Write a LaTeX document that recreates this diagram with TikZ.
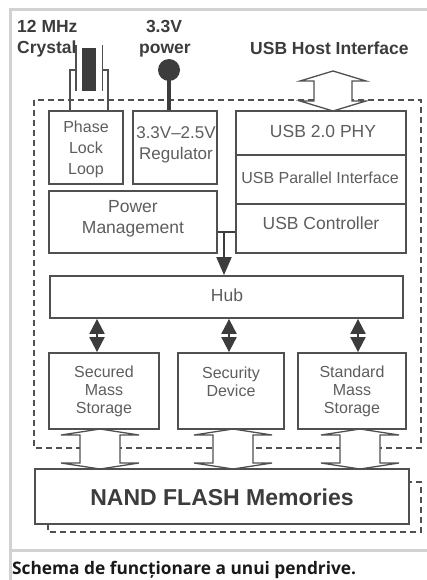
\documentclass[tikz,border=0pt]{standalone}
\usepackage{fontspec}
\setmainfont{Liberation Sans}
\newfontfamily\capfont{Open Sans}
\usetikzlibrary{arrows.meta}
\definecolor{boxc}{HTML}{505050}
\definecolor{txtc}{HTML}{5E5E5E}
\definecolor{titc}{HTML}{3C3C3C}
\definecolor{framec}{HTML}{D2D2D2}
\newcommand\myharrow[6]{%
  \draw[hollow] (#1,#2) -- (#1+#5,#2+#6) -- (#1+#4,#2+#6) -- (#1+#4,#3-#6) -- (#1+#5,#3-#6) -- (#1,#3) -- (#1-#5,#3-#6) -- (#1-#4,#3-#6) -- (#1-#4,#2+#6) -- (#1-#5,#2+#6) -- cycle;}
\begin{document}
\begin{tikzpicture}[x=1pt,y=-1pt,
  blk/.style={draw=boxc,line width=1.8pt,fill=white,inner sep=0pt},
  lbl/.style={text=txtc,align=center,inner sep=0pt,font=\fontsize{16}{21}\selectfont},
  lblb/.style={text=txtc,align=center,inner sep=0pt,font=\fontsize{17.5}{21}\selectfont},
  ttl/.style={text=titc,inner sep=0pt,font=\bfseries\fontsize{17.5}{21}\selectfont},
  hollow/.style={draw=boxc,line width=1.3pt,fill=white,line join=miter},
  dashbox/.style={draw=boxc,line width=1.5pt,dash pattern=on 6pt off 4pt},
  solidarr/.style={draw=titc,line width=2pt},
]
\useasboundingbox (0,0) rectangle (427,580);
% frame
\draw[framec,line width=3pt] (10.5,580) -- (10.5,9.5) -- (440,9.5);
\draw[framec,line width=3pt] (10.5,550) -- (440,550);
% dashed enclosure
\draw[dashbox] (34,100) rectangle (421,448);
% hollow arrows
\myharrow{333}{71}{111}{19}{33}{10}
\myharrow{100}{429}{469}{20}{39}{6}
\myharrow{233}{429}{469}{20}{39}{6}
\myharrow{360}{429}{469}{20}{39}{6}
% boxes
\node[blk,minimum width=74pt,minimum height=73pt] (pll) at (86,147.5) {};
\node[blk,minimum width=84pt,minimum height=73pt] (reg) at (175,147.5) {};
\node[blk,minimum width=170pt,minimum height=44pt] (phy) at (321,133) {};
\node[blk,minimum width=170pt,minimum height=49pt] (par) at (321,179.5) {};
\node[blk,minimum width=170pt,minimum height=49pt] (ctl) at (321,228.5) {};
\node[blk,minimum width=168pt,minimum height=62pt] (pm) at (133,222) {};
\node[blk,minimum width=353pt,minimum height=42pt] (hub) at (226.5,297) {};
\node[blk,minimum width=110pt,minimum height=76pt] (sec) at (104,391) {};
\node[blk,minimum width=106pt,minimum height=76pt] (sdev) at (231,391) {};
\node[blk,minimum width=108pt,minimum height=76pt] (std) at (352,391) {};
\node[blk,minimum width=374pt,minimum height=55pt] (nand) at (222,496.5) {};
% nand shadow
\draw[dashbox] (48,524) -- (48,532) -- (421,532) -- (421,482) -- (409,482);
% box texts
\node[lbl] (tpll) at (86,149) {Phase\\Lock\\Loop};
\node[lbl,font=\fontsize{17}{21}\selectfont] (treg) at (176,145) {3.3V–2.5V\\Regulator};
\node[lblb] (tphy) at (323,131) {USB 2.0 PHY};
\node[lbl] (tpar) at (320,178) {USB Parallel Interface};
\node[lblb] (tctl) at (321,223) {USB Controller};
\node[lblb] (tpm) at (133,219) {Power\\Management};
\node[lblb] (thub) at (227,295) {Hub};
\node[lbl,font=\fontsize{16}{18}\selectfont] (tsec) at (104,391) {Secured\\Mass\\Storage};
\node[lbl,font=\fontsize{16}{18}\selectfont] (tsdev) at (231,382) {Security\\Device};
\node[lbl,font=\fontsize{16}{18}\selectfont] (tstd) at (352,391) {Standard\\Mass\\Storage};
\node[text=titc,inner sep=0pt,font=\bfseries\fontsize{23}{26}\selectfont] (tnand) at (222,497) {NAND FLASH Memories};
% power input
\node[circle,fill=titc,minimum size=22pt,inner sep=0pt] (pwr) at (169,70) {};
\coordinate (px) at (169,0);
\draw[titc,line width=4pt] (pwr.center) -- (reg.north -| px);
% crystal
\node[fill=titc,minimum width=14pt,minimum height=43pt,inner sep=0pt] (xtal) at (89,69.5) {};
\coordinate (lx) at (70,0);
\coordinate (rx) at (108,0);
\draw[boxc,line width=1.3pt] (76,45) -- (76,91);
\draw[boxc,line width=1.3pt] (102.5,45) -- (102.5,91);
\draw[boxc,line width=1.3pt] (76,70) -| (pll.north -| lx);
\draw[boxc,line width=1.3pt] (102.5,70) -| (pll.north -| rx);
% junction arrow to hub
\coordinate (j) at (224,232);
\draw[solidarr] (pm.east |- j) -- (ctl.west |- j);
\draw[solidarr,-{Triangle[width=15pt,length=18pt]}] (j) -- (hub.north -| j);
% hub double arrows
\coordinate (a1) at (97,0);
\coordinate (a2) at (229,0);
\coordinate (a3) at (358,0);
\draw[solidarr,{Triangle[width=15pt,length=15pt]}-{Triangle[width=15pt,length=15pt]}] (hub.south -| a1) -- (sec.north -| a1);
\draw[solidarr,{Triangle[width=15pt,length=15pt]}-{Triangle[width=15pt,length=15pt]}] (hub.south -| a2) -- (sdev.north -| a2);
\draw[solidarr,{Triangle[width=15pt,length=15pt]}-{Triangle[width=15pt,length=15pt]}] (hub.south -| a3) -- (std.north -| a3);
% titles
\node[ttl,anchor=base west] (t12) at (17,33) {12 MHz};
\node[ttl,anchor=base west] (tcry) at (17,54) {Crystal};
\node[ttl,anchor=base] (t33) at (164,33) {3.3V};
\node[ttl,anchor=base] (tpow) at (165,54) {power};
\node[ttl,anchor=base west] (tusb) at (250,55) {USB Host Interface};
% caption
\node[anchor=base west,inner sep=0pt,text=black!90,font=\capfont\bfseries\fontsize{17.3}{21}\selectfont] (cap) at (12,574) {Schema de funcționare a unui pendrive.};
\end{tikzpicture}
\end{document}
